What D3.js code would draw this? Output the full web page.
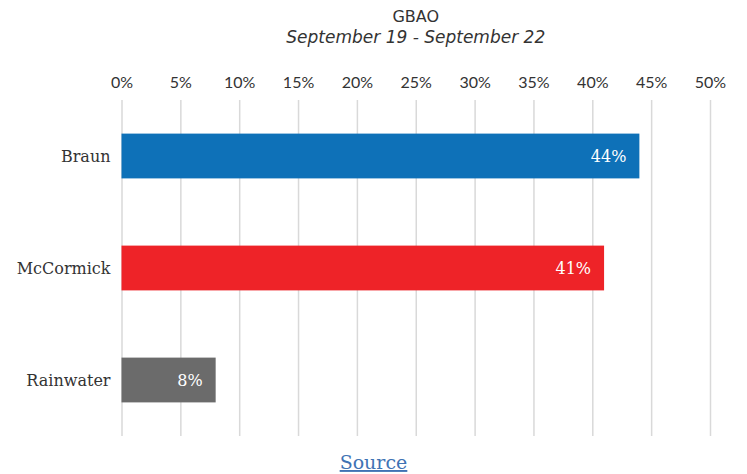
<!DOCTYPE html>
<html lang="en">
	<head>
		<meta charset="utf-8">
		<title>GBAO poll</title>
		<script type="text/javascript" src="https://cdn.jsdelivr.net/npm/d3@7"></script>
		<style>
			body { margin: 0; background: #fff; }
			svg { display: block; }
		</style>
	</head>
	<body>
		<div id="chart"></div>
		<script type="text/javascript">

// poll data
var candidates = ["Braun", "McCormick", "Rainwater"];
var shares = [44, 41, 8];
var barColors = ["#0e71b8", "#ee2328", "#6b6b6b"];
var tickValues = [0, 5, 10, 15, 20, 25, 30, 35, 40, 45, 50];
var title = "GBAO";
var subtitle = "September 19 - September 22";

var w = 747, h = 474;
var margin = {top: 100, right: 37, bottom: 38, left: 121.5};

var svg = d3.select("#chart")
			.append("svg")
			.attr("width", w)
			.attr("height", h);

var x = d3.scaleLinear()
		  .domain([0, 50])
		  .range([margin.left, w - margin.right]);

var y = d3.scaleBand()
		  .domain(candidates)
		  .range([margin.top, h - margin.bottom])
		  .paddingInner(0.6)
		  .paddingOuter(0.3);

// title
svg.append("text")
   .attr("x", (x(0) + x(50)) / 2)
   .attr("y", 22)
   .attr("text-anchor", "middle")
   .style("font-family", "'DejaVu Sans', sans-serif")
   .style("font-size", "16px")
   .style("fill", "#333")
   .text(title);

svg.append("text")
   .attr("x", (x(0) + x(50)) / 2)
   .attr("y", 43)
   .attr("text-anchor", "middle")
   .style("font-family", "'DejaVu Sans', sans-serif")
   .style("font-style", "italic")
   .style("font-size", "17px")
   .style("fill", "#333")
   .text(subtitle);

// gridlines + tick labels
var xAxis = d3.axisTop(x)
			  .tickValues(tickValues)
			  .tickFormat(function(d) { return d + "%"; })
			  .tickSize(-(h - margin.bottom - margin.top))
			  .tickPadding(12);

var gAxis = svg.append("g")
			   .attr("transform", "translate(0," + margin.top + ")")
			   .call(xAxis);

gAxis.select(".domain").remove();
gAxis.selectAll(".tick line")
	 .attr("stroke", "#d9d9d9")
	 .attr("stroke-width", 1.5);
gAxis.selectAll(".tick text")
	 .style("font-family", "Lato, sans-serif")
	 .style("font-size", "16px")
	 .style("fill", "#333");

// bars
var data = candidates.map(function(c, i) {
	return {name: c, value: shares[i], color: barColors[i]};
});

svg.selectAll("rect.bar")
   .data(data)
   .enter()
   .append("rect")
   .attr("class", "bar")
   .attr("x", x(0))
   .attr("y", function(d) { return y(d.name); })
   .attr("width", function(d) { return x(d.value) - x(0); })
   .attr("height", y.bandwidth())
   .style("fill", function(d) { return d.color; });

// value labels inside bars
svg.selectAll("text.value")
   .data(data)
   .enter()
   .append("text")
   .attr("class", "value")
   .attr("x", function(d) { return x(d.value) - 13; })
   .attr("y", function(d) { return y(d.name) + y.bandwidth() / 2; })
   .attr("dy", "0.35em")
   .attr("text-anchor", "end")
   .style("font-family", "'DejaVu Serif', serif")
   .style("font-size", "16px")
   .style("fill", "#fff")
   .text(function(d) { return d.value + "%"; });

// category labels
svg.selectAll("text.cat")
   .data(data)
   .enter()
   .append("text")
   .attr("class", "cat")
   .attr("x", x(0) - 11)
   .attr("y", function(d) { return y(d.name) + y.bandwidth() / 2; })
   .attr("dy", "0.35em")
   .attr("text-anchor", "end")
   .style("font-family", "'DejaVu Serif', serif")
   .style("font-size", "16px")
   .style("fill", "#333")
   .text(function(d) { return d.name; });

// source link
svg.append("text")
   .attr("x", w / 2)
   .attr("y", 469)
   .attr("text-anchor", "middle")
   .style("font-family", "'DejaVu Serif', serif")
   .style("font-size", "19px")
   .style("fill", "#3f73b4")
   .style("text-decoration", "underline")
   .text("Source");

		</script>
	</body>
</html>
